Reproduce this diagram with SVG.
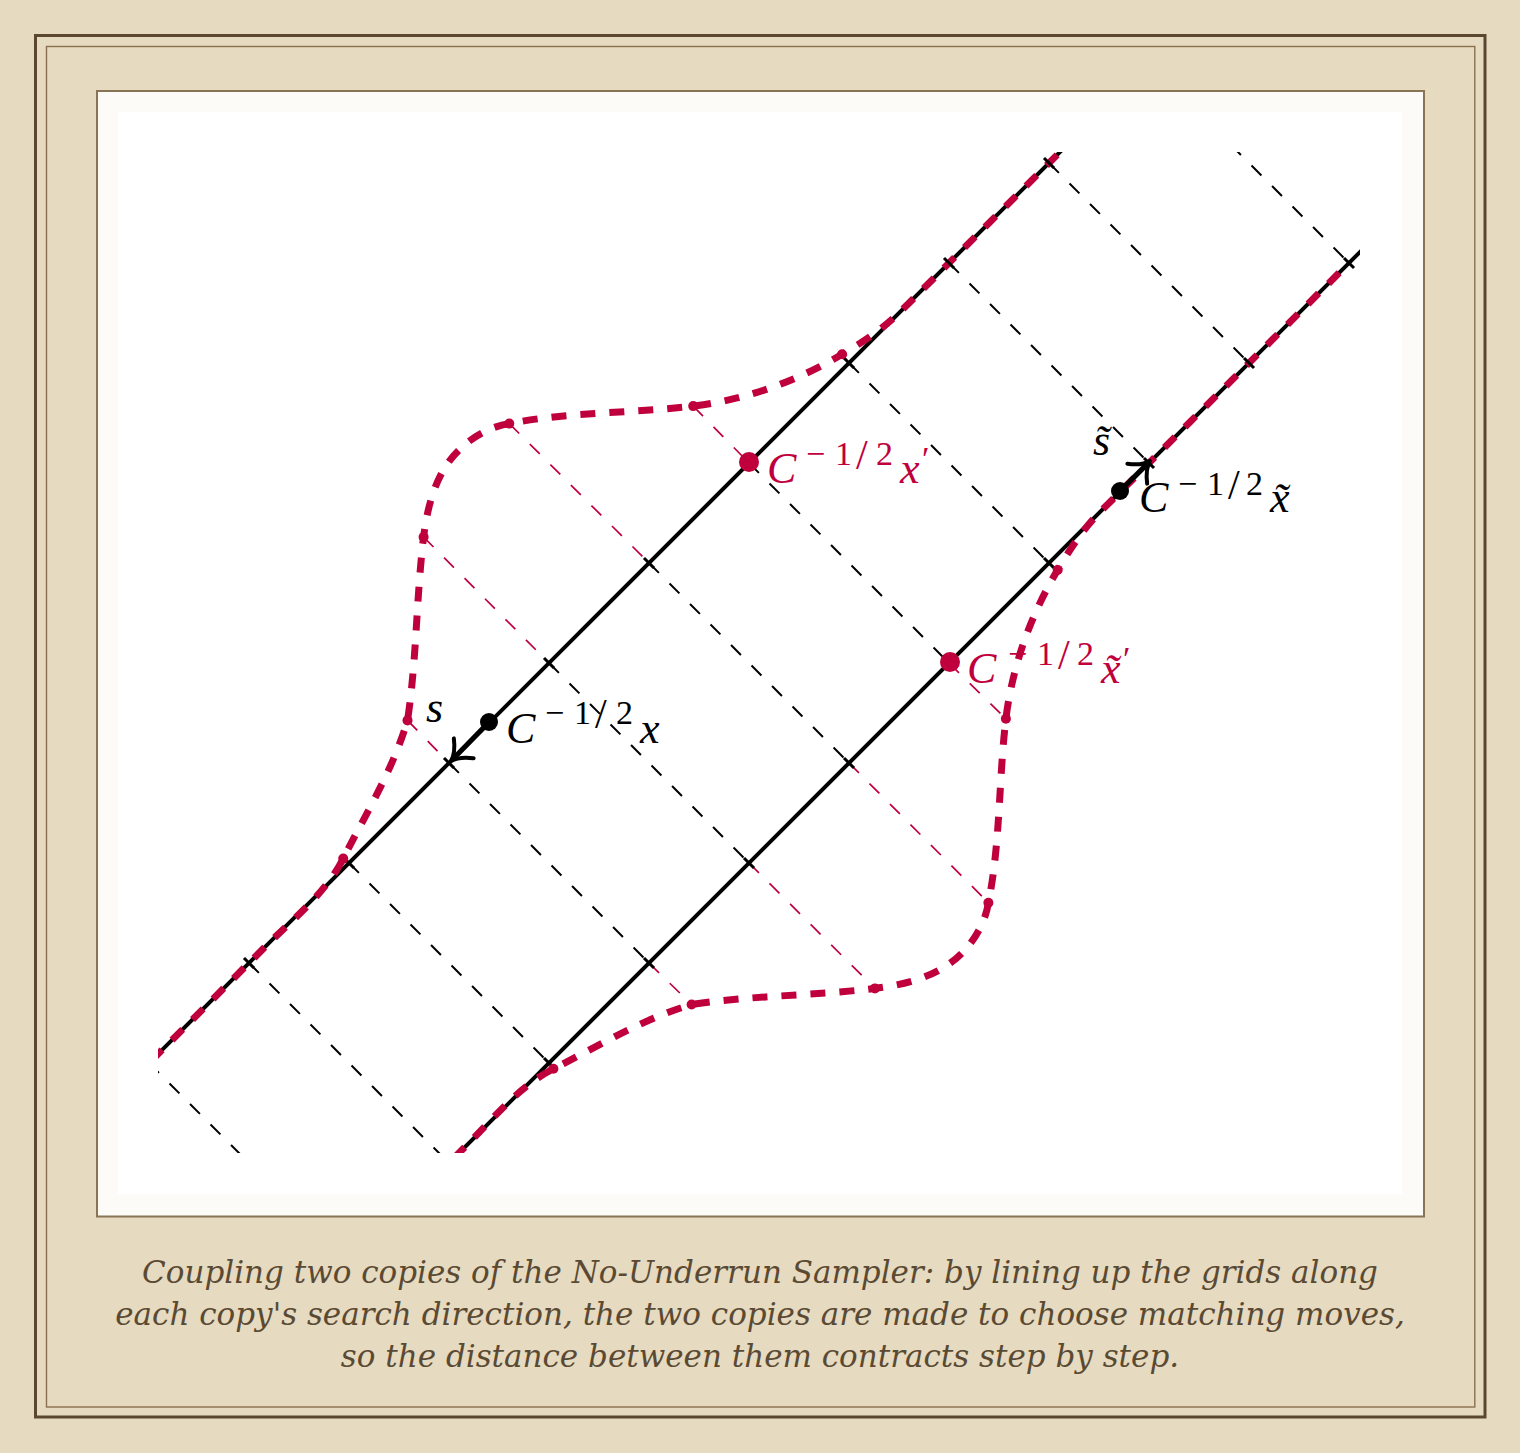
<svg xmlns="http://www.w3.org/2000/svg" width="1520" height="1453" viewBox="0 0 1520 1453">
<style>
.grid{stroke:#000;stroke-width:2;stroke-dasharray:14 15;fill:none}
.rgrid{stroke:#bf003c;stroke-width:1.7;stroke-dasharray:14 15;fill:none}
.axis{stroke:#000;stroke-width:4;fill:none}
.tick{stroke:#000;stroke-width:3;fill:none}
.dens{stroke:#bf003c;stroke-width:7;stroke-dasharray:15 14;fill:none}
.rdot{fill:#bf003c}
.shaft{stroke:#000;stroke-width:5}
.ah{stroke:#000;stroke-width:4;fill:none;stroke-linecap:round;stroke-linejoin:round}
.m{font-family:'Liberation Serif',serif;font-style:italic;font-size:44px}
.sup{font-family:'Liberation Serif',serif;font-style:normal;font-size:34px}
.sl{font-family:'Liberation Serif',serif;font-style:normal;font-size:42px}
.cap{font-family:'DejaVu Serif',serif;font-style:italic;font-size:31px;fill:#5b4a33;text-anchor:middle}
</style>
<defs>
<clipPath id="clip"><rect x="158" y="152" width="1202" height="1001"/></clipPath>
<path id="densA" class="dens" d="M49,1163L265,947C292.6,919.4 325.6,893.4 343.2,858.6C365.7,813.9 392.5,770.9 407.5,720.4C416.7,660 416.3,596.5 423.6,537.1C426.7,511.3 433.4,483.2 448.6,462.1C462.6,442.6 485.6,427.2 509.3,423.6C569.7,411.5 632,413.4 693.2,406.1C745.4,399.8 797,381.3 842.1,354.3C862.7,342 883,329 900,312L1149,63"/>
</defs>
<rect width="1520" height="1453" fill="#e6dac0"/>
<rect x="35.5" y="35.5" width="1449.5" height="1381.5" fill="none" stroke="#5b4630" stroke-width="3"/>
<rect x="46.5" y="46.5" width="1428.3" height="1360.5" fill="none" stroke="#8b6f4e" stroke-width="1.4"/>
<rect x="97" y="91" width="1327" height="1125.5" fill="#fcfbf7" stroke="#8b7355" stroke-width="2"/>
<rect x="118" y="112" width="1284" height="1082" fill="#ffffff"/>

<g id="connectors" clip-path="url(#clip)">
<g id="grid-lines">
<path class="grid" d="M149,1063L349,1263M249,963L449,1163M349,863L549,1063M449,763L649,963M549,663L749,863M649,563L849,763M749,463L949,663M849,363L1049,563M949,263L1149,463M1049,163L1249,363M1149,63L1349,263"/>
</g>
<g id="red-grid-lines">
<path class="rgrid" d="M343.2,858.6L349,863M549,1063L553.4,1068.8M407.5,720.4L449,763M649,963L691.6,1004.5M423.6,537.1L549,663M749,863L874.9,988.4M509.3,423.6L649,563M849,763L988.4,902.7M693.2,406.1L749,463M949,663L1005.9,718.8M842.1,354.3L849,363M1049,563L1057.7,569.9"/>
</g>
<g id="axes">
<line class="axis" x1="49" y1="1163" x2="1149" y2="63"/>
<line class="axis" x1="349" y1="1263" x2="1449" y2="163"/>
</g>
<g id="densities">
<use href="#densA"/>
<use href="#densA" transform="matrix(0,-1,-1,0,1412,1412)"/>
</g>
<g id="ticks">
<path class="tick" d="M244,958L254,968M344,858L354,868M444,758L454,768M544,658L554,668M644,558L654,568M844,358L854,368M944,258L954,268M1044,158L1054,168M544,1058L554,1068M644,958L654,968M744,858L754,868M844,758L854,768M1044,558L1054,568M1144,458L1154,468M1244,358L1254,368M1344,258L1354,268"/>
</g>
<g id="sample-dots">
<circle class="rdot" cx="343.2" cy="858.6" r="5"/>
<circle class="rdot" cx="407.5" cy="720.4" r="5"/>
<circle class="rdot" cx="423.6" cy="537.1" r="5"/>
<circle class="rdot" cx="509.3" cy="423.6" r="5"/>
<circle class="rdot" cx="693.2" cy="406.1" r="5"/>
<circle class="rdot" cx="842.1" cy="354.3" r="5"/>
<circle class="rdot" cx="553.4" cy="1068.8" r="5"/>
<circle class="rdot" cx="691.6" cy="1004.5" r="5"/>
<circle class="rdot" cx="874.9" cy="988.4" r="5"/>
<circle class="rdot" cx="988.4" cy="902.7" r="5"/>
<circle class="rdot" cx="1005.9" cy="718.8" r="5"/>
<circle class="rdot" cx="1057.7" cy="569.9" r="5"/>
</g>
<g id="arrows">
<line class="shaft" x1="489" y1="722" x2="453" y2="759"/>
<path class="ah" d="M-18,-14C-11,-5 -4,-1 0,0C-4,1 -11,5 -18,14" transform="translate(451,761) rotate(135)"/>
<line class="shaft" x1="1120" y1="491" x2="1148" y2="463"/>
<path class="ah" d="M-18,-14C-11,-5 -4,-1 0,0C-4,1 -11,5 -18,14" transform="translate(1150,461) rotate(-45)"/>
</g>
</g>

<g id="node-x">
<circle cx="489" cy="722" r="9" fill="#000"/>
<text class="m" y="743"><tspan x="506">C</tspan><tspan class="sup" x="545" y="724">−</tspan><tspan class="sup" x="574" y="724">1</tspan><tspan class="sl" x="595" y="728">/</tspan><tspan class="sup" x="616" y="724">2</tspan><tspan x="640" y="743">x</tspan></text>
</g>
<g id="label-s">
<text class="m" x="426" y="722">s</text>
</g>
<g id="node-xprime" fill="#bf003c">
<circle cx="749" cy="462" r="10"/>
<text class="m" y="483"><tspan x="767">C</tspan><tspan class="sup" x="806" y="465">−</tspan><tspan class="sup" x="835" y="465">1</tspan><tspan class="sl" x="856" y="469">/</tspan><tspan class="sup" x="876" y="465">2</tspan><tspan x="900" y="483">x</tspan><tspan class="sup" x="922" y="470">′</tspan></text>
</g>
<g id="node-xtildeprime" fill="#bf003c">
<circle cx="950" cy="662" r="10"/>
<text class="m" y="683"><tspan x="967">C</tspan><tspan class="sup" x="1008" y="665">−</tspan><tspan class="sup" x="1037" y="665">1</tspan><tspan class="sl" x="1058" y="669">/</tspan><tspan class="sup" x="1077" y="665">2</tspan><tspan x="1101" y="683">x̃</tspan><tspan class="sup" x="1123" y="670">′</tspan></text>
</g>
<g id="node-xtilde">
<circle cx="1120" cy="491" r="9" fill="#000"/>
<text class="m" y="512"><tspan x="1139">C</tspan><tspan class="sup" x="1178" y="495">−</tspan><tspan class="sup" x="1207" y="495">1</tspan><tspan class="sl" x="1228" y="499">/</tspan><tspan class="sup" x="1246" y="495">2</tspan><tspan x="1270" y="512">x̃</tspan></text>
</g>
<g id="label-stilde">
<text class="m" x="1093" y="455" font-size="40">s̃</text>
</g>

<g id="caption">
<text class="cap" x="760" y="1283">Coupling two copies of the No-Underrun Sampler: by lining up the grids along</text>
<text class="cap" x="760" y="1325">each copy's search direction, the two copies are made to choose matching moves,</text>
<text class="cap" x="760" y="1367">so the distance between them contracts step by step.</text>
</g>
</svg>
